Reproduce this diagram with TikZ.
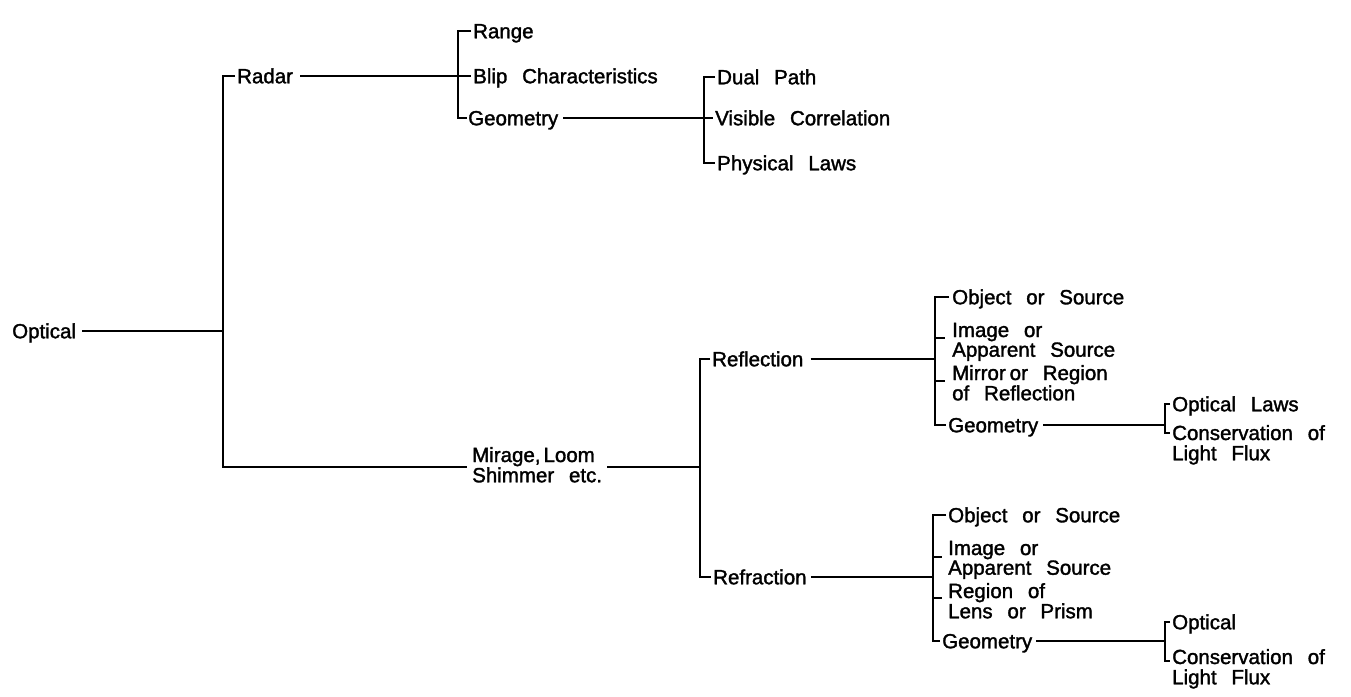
\documentclass[tikz,border=0pt]{standalone}
\usepackage{fontspec}
\setmainfont{Liberation Sans}[WordSpace=2.6, FakeBold=1.6]
\usetikzlibrary{calc}
\newcommand{\twolines}[2]{\begin{tabular}[t]{@{}l@{}}#1\\#2\end{tabular}}
\tikzset{
  lbl/.style={anchor=west, inner sep=0pt, text height=14.5pt, text depth=0pt,
              font=\fontsize{20.5}{18}\selectfont},
  lbltwo/.style={anchor=base west, inner sep=0pt, font=\fontsize{20.5}{18}\selectfont},
  wire/.style={line width=1.6pt, line cap=butt, line join=miter},
}
\begin{document}
\begin{tikzpicture}[x=1pt,y=-1pt]
\useasboundingbox (0,0) rectangle (1351,696);

% ---- nodes ----
\node[lbl] (optical) at (12,331) {Optical};
\node[lbl] (radar) at (237,76) {Radar};
\node[lbltwo] (mirage) at (472,462) {\twolines{Mirage,\hspace{3pt}Loom}{Shimmer etc.}};
\node[lbl] (range) at (473,31) {Range};
\node[lbl] (blip) at (473,76) {Blip Characteristics};
\node[lbl] (geoA) at (468,118) {Geometry};
\node[lbl] (dual) at (717,77) {Dual Path};
\node[lbl] (visible) at (715,118) {Visible Correlation};
\node[lbl] (phys) at (717,163) {Physical Laws};
\node[lbl] (reflection) at (712,359) {Reflection};
\node[lbl] (refraction) at (713,577) {Refraction};
\node[lbl] (objA) at (952,297) {Object or Source};
\node[lbltwo] (imgA) at (952,337) {\twolines{Image or}{Apparent Source}};
\node[lbltwo] (mirror) at (952,380) {\twolines{Mirror\hspace{4pt}or Region}{of Reflection}};
\node[lbl] (geoB) at (948,425) {Geometry};
\node[lbl] (optlaws) at (1172,404) {Optical Laws};
\node[lbltwo] (consA) at (1172,440) {\twolines{Conservation of}{Light Flux}};
\node[lbl] (objB) at (948,515) {Object or Source};
\node[lbltwo] (imgB) at (948,555) {\twolines{Image or}{Apparent Source}};
\node[lbltwo] (region) at (948,598) {\twolines{Region of}{Lens or Prism}};
\node[lbl] (geoC) at (942,641) {Geometry};
\node[lbl] (optC) at (1172,622) {Optical};
\node[lbltwo] (consB) at (1172,664) {\twolines{Conservation of}{Light Flux}};

% ---- bracket corner coordinates ----
\coordinate (b1t) at (223,76);  \coordinate (b1j) at (223,331); \coordinate (b1b) at (223,467);
\coordinate (b2t) at (458,31);  \coordinate (b2b) at (458,118);
\coordinate (b3t) at (704,77);  \coordinate (b3b) at (704,163);
\coordinate (b4t) at (700,359); \coordinate (b4j) at (700,467); \coordinate (b4b) at (700,577);
\coordinate (b5t) at (935,297); \coordinate (b5j) at (935,359); \coordinate (b5b) at (935,425);
\coordinate (b6t) at (1165,404); \coordinate (b6j) at (1165,425); \coordinate (b6b) at (1165,433);
\coordinate (b7t) at (933,515); \coordinate (b7j) at (933,577); \coordinate (b7b) at (933,641);
\coordinate (b8t) at (1165,622); \coordinate (b8j) at (1165,641); \coordinate (b8b) at (1165,661);

% ---- connectors ----
% level 1
\draw[wire] ($(optical.east)+(6,0)$) -- (b1j);
\draw[wire] ($(radar.west)+(-2,0)$) -- (b1t) -- (b1b) -- ($(mirage.west|-b1b)+(-5,0)$);
% radar branch
\draw[wire] ($(radar.east)+(7,0)$) -- ($(blip.west)+(-2,0)$);
\draw[wire] ($(range.west)+(-2,0)$) -- (b2t) -- (b2b) -- ($(geoA.west)+(-1,0)$);
\draw[wire] ($(geoA.east)+(5,0)$) -- ($(visible.west)+(-2,0)$);
\draw[wire] ($(dual.west)+(-2,0)$) -- (b3t) -- (b3b) -- ($(phys.west)+(-2,0)$);
% mirage branch
\draw[wire] ($(mirage.east|-b1b)+(5,0)$) -- (b4j);
\draw[wire] ($(reflection.west)+(-2,0)$) -- (b4t) -- (b4b) -- ($(refraction.west)+(-2,0)$);
% reflection
\draw[wire] ($(reflection.east)+(7,0)$) -- (b5j);
\draw[wire] ($(objA.west)+(-3,0)$) -- (b5t) -- (b5b) -- ($(geoB.west)+(-2,0)$);
\draw[wire] ($(imgA.base west)+(-17,1)$) -- ($(imgA.base west)+(-7,1)$);
\draw[wire] ($(mirror.base west)+(-17,1)$) -- ($(mirror.base west)+(-7,1)$);
\draw[wire] ($(geoB.east)+(5,0)$) -- (b6j);
\draw[wire] ($(optlaws.west)+(-2,0)$) -- (b6t) -- (b6b) -- ($(consA.base west)+(-2,-7)$);
% refraction
\draw[wire] ($(refraction.east)+(4,0)$) -- (b7j);
\draw[wire] ($(objB.west)+(-2,0)$) -- (b7t) -- (b7b) -- ($(geoC.west)+(-2,0)$);
\draw[wire] ($(imgB.base west)+(-15,2)$) -- ($(imgB.base west)+(-6,2)$);
\draw[wire] ($(region.base west)+(-15,0)$) -- ($(region.base west)+(-6,0)$);
\draw[wire] ($(geoC.east)+(4,0)$) -- (b8j);
\draw[wire] ($(optC.west)+(-2,0)$) -- (b8t) -- (b8b) -- ($(consB.base west)+(-2,-3)$);
\end{tikzpicture}
\end{document}
